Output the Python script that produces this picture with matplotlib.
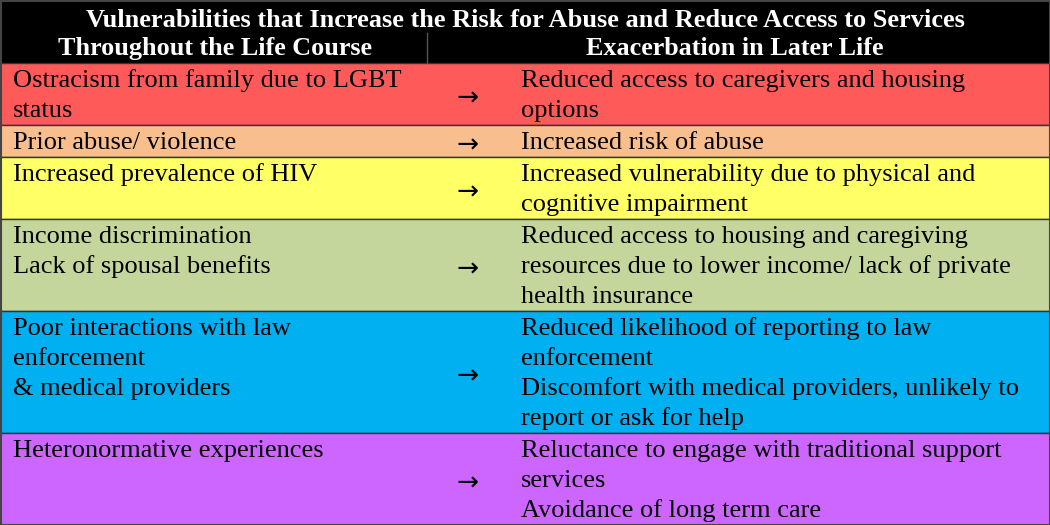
import matplotlib.pyplot as plt
from matplotlib.patches import Rectangle

title = "Vulnerabilities that Increase the Risk for Abuse and Reduce Access to Services"
col_left = "Throughout the Life Course"
col_right = "Exacerbation in Later Life"

left_texts = [
    "Ostracism from family due to LGBT\nstatus",
    "Prior abuse/ violence",
    "Increased prevalence of HIV",
    "Income discrimination\nLack of spousal benefits",
    "Poor interactions with law\nenforcement\n& medical providers",
    "Heteronormative experiences",
]
right_texts = [
    "Reduced access to caregivers and housing\noptions",
    "Increased risk of abuse",
    "Increased vulnerability due to physical and\ncognitive impairment",
    "Reduced access to housing and caregiving\nresources due to lower income/ lack of private\nhealth insurance",
    "Reduced likelihood of reporting to law\nenforcement\nDiscomfort with medical providers, unlikely to\nreport or ask for help",
    "Reluctance to engage with traditional support\nservices\nAvoidance of long term care",
]
row_colors = ["#FF5A5A", "#F9BE8E", "#FFFF66", "#C4D69C", "#00B0F0", "#CC66FF"]

W, H = 1050, 525
HEAD = 63
LINE = 30
serif = "Liberation Serif"

fig = plt.figure(figsize=(10.5, 5.25), dpi=100)
ax = fig.add_axes([0, 0, 1, 1])
ax.set_xlim(0, W)
ax.set_ylim(H, 0)
ax.axis("off")

# header
ax.add_patch(Rectangle((0, 0), W, HEAD, facecolor="black", edgecolor="none"))
ax.plot([427, 427], [33, HEAD], color="#555555", lw=1)
ax.text(525, 27, title, color="white", fontsize=19, fontweight="bold",
        family=serif, ha="center", va="baseline")
ax.text(215, 55, col_left, color="white", fontsize=18.8, fontweight="bold",
        family=serif, ha="center", va="baseline")
ax.text(735, 55, col_right, color="white", fontsize=18.8, fontweight="bold",
        family=serif, ha="center", va="baseline")

# body rows
top = HEAD
for lt, rt, c in zip(left_texts, right_texts, row_colors):
    ll = lt.split("\n")
    rl = rt.split("\n")
    n = max(len(ll), len(rl))
    h = LINE * n + 2
    ax.add_patch(Rectangle((0, top), W, h, facecolor=c, edgecolor="#333333", lw=1))
    for i, s in enumerate(ll):
        ax.text(13, top + 24 + LINE * i, s, fontsize=19, family=serif,
                ha="left", va="baseline")
    for i, s in enumerate(rl):
        ax.text(521, top + 24 + LINE * i, s, fontsize=19, family=serif,
                ha="left", va="baseline")
    ax.text(468, top + h / 2 + 5, "\u2192", fontsize=19, family=["Noto Sans", "DejaVu Sans"],
            ha="center", va="center")
    top += h

ax.add_patch(Rectangle((0.5, 0.5), W - 1, H - 1, facecolor="none",
                       edgecolor="#444444", lw=1.5))

fig.savefig("out.png", dpi=100)
